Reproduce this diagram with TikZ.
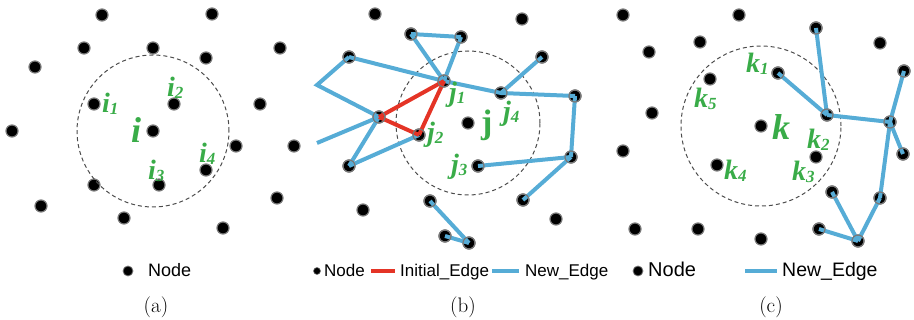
\documentclass[tikz,border=0pt]{standalone}
\usepackage{fontspec}
\newfontfamily\labfont{Liberation Serif}
\newfontfamily\legfont{Liberation Sans}
\definecolor{labgreen}{RGB}{57,172,72}
\definecolor{edgeblue}{RGB}{86,172,214}
\definecolor{edgered}{RGB}{228,52,38}
\definecolor{ringgray}{RGB}{120,120,120}
\newcommand\mylab[2]{#1\raisebox{-1.5pt}{\fontsize{17}{17}\selectfont #2}}
\tikzset{
  dot/.style={circle, fill=black, draw=ringgray, line width=1.2pt, minimum size=12pt, inner sep=0pt},
  ring/.style={draw=ringgray, line width=1.2pt},
  bedge/.style={draw=edgeblue, line width=4pt},
  redge/.style={draw=edgered, line width=4pt},
  dcirc/.style={draw=black!70, line width=1pt, dash pattern=on 4pt off 3pt},
  lab/.style={text=labgreen, inner sep=0pt, anchor=base west, font=\labfont\bfseries\itshape\fontsize{28}{30}\selectfont},
  biglab/.style={lab, font=\labfont\bfseries\itshape\fontsize{36}{38}\selectfont},
  legtxt/.style={inner sep=0pt, anchor=base west},
  captxt/.style={inner sep=0pt, anchor=base, font=\fontsize{21}{24}\selectfont},
}
\begin{document}
\begin{tikzpicture}[x=1pt,y=-1pt]
\useasboundingbox (0,0) rectangle (914,320);
% ---------- panel (a)
\foreach \n/\x/\y in {a1/102/15,a2/212/14,a3/84/48,a4/153/48,a5/206/58,a6/280/48,a7/35/67,
  a8/94/104,a9/174/104,a10/260/104,a11/12/131,a12/153/131,a13/236/146,a14/294/146,
  a15/206/170,a16/94/185,a17/159/185,a18/41/206,a19/277/198,a20/124/218,a21/223/228}
  \node[dot] (\n) at (\x,\y) {};
\draw[dcirc] (a12) circle (76pt);
\node[lab] (li1) at (102,113) {\mylab{i}{1}};
\node[lab] (li2) at (167,97) {\mylab{i}{2}};
\node[biglab] (li) at (131,143) {i};
\node[lab] (li3) at (148,180) {\mylab{i}{3}};
\node[lab] (li4) at (199,163) {\mylab{i}{4}};
% ---------- panel (b)
\foreach \n/\x/\y in {b1/375/14,b2/522/19,b3/411/34,b4/461/37,b5/349/57,b6/542/57,b7/444/81,
  b8/501/93,b9/575/96,b10/379/117,b11/468/123,b12/419/135,b13/349/166,b14/478/166,
  b15/571/157,b16/523/200,b17/363/210,b18/430/201,b19/556/219,b20/445/236,b21/469/243}
  \node[dot] (\n) at (\x,\y) {};
\coordinate (bf1) at (317,85);
\coordinate (bf2) at (317,143);
\draw[dcirc] (b11) circle (72pt);
\draw[bedge] (b5.center) -- (bf1) -- (b10.center);
\draw[bedge] (b5.center) -- (b7.center);
\draw[bedge] (b7.center) -- (b8.center) -- (b9.center);
\draw[bedge] (b3.center) -- (b4.center);
\draw[bedge] (b3.center) -- (b7.center);
\draw[bedge] (b4.center) -- (b7.center);
\draw[bedge] (b8.center) -- (b6.center);
\draw[bedge] (b10.center) -- (bf2);
\draw[bedge] (b10.center) -- (b13.center);
\draw[bedge] (b13.center) -- (b12.center);
\draw[bedge] (b9.center) -- (b15.center);
\draw[bedge] (b14.center) -- (b15.center);
\draw[bedge] (b15.center) -- (b16.center);
\draw[bedge] (b18.center) -- (b21.center);
\draw[bedge] (b20.center) -- (b21.center);
\draw[redge] (b10.center) -- (b7.center);
\draw[redge] (b7.center) -- (b12.center);
\draw[redge] (b10.center) -- (b12.center);
\foreach \n in {b3,b4,b5,b6,b7,b8,b9,b10,b12,b13,b14,b15,b16,b18,b20,b21}
  \draw[ring] (\n) circle (6pt);
\node[lab] (lj1) at (449,102) {\mylab{j}{1}};
\node[lab] (lj2) at (427,142) {\mylab{j}{2}};
\node[biglab, font=\labfont\bfseries\upshape\fontsize{34}{36}\selectfont] (lj) at (481,134) {j};
\node[lab] (lj4) at (503,121) {\mylab{j}{4}};
\node[lab] (lj3) at (451,174) {\mylab{j}{3}};
% ---------- panel (c)
\foreach \n/\x/\y in {c1/623/15,c2/739/15,c3/816/28,c4/700/42,c5/880/43,c6/649/52,c7/778/73,
  c8/904/71,c9/710/79,c10/652/113,c11/827/115,c12/890/122,c13/761/126,c14/623/151,
  c15/816/157,c16/903/154,c17/717/165,c18/832/192,c19/880/198,c20/635/229,c21/698/229,
  c22/761/239,c23/819/229,c24/858/241}
  \node[dot] (\n) at (\x,\y) {};
\draw[dcirc] (c13) circle (80pt);
\draw[bedge] (c7.center) -- (c11.center);
\draw[bedge] (c3.center) -- (c11.center);
\draw[bedge] (c11.center) -- (c12.center);
\draw[bedge] (c12.center) -- (c8.center);
\draw[bedge] (c12.center) -- (c16.center);
\draw[bedge] (c12.center) -- (c19.center);
\draw[bedge] (c19.center) -- (c24.center);
\draw[bedge] (c18.center) -- (c24.center);
\draw[bedge] (c23.center) -- (c24.center);
\foreach \n in {c3,c7,c8,c11,c12,c16,c18,c19,c23,c24}
  \draw[ring] (\n) circle (6pt);
\node[lab] (lk1) at (746,73) {\mylab{k}{1}};
\node[lab] (lk5) at (694,108) {\mylab{k}{5}};
\node[biglab] (lk) at (772,140) {k};
\node[lab] (lk2) at (807,149) {\mylab{k}{2}};
\node[lab] (lk3) at (792,181) {\mylab{k}{3}};
\node[lab] (lk4) at (724,180) {\mylab{k}{4}};
% ---------- legends
\node[dot, minimum size=10pt, line width=0.8pt] (ga) at (128,271) {};
\node[legtxt, font=\legfont\fontsize{18}{20}\selectfont] (gta) at (148,277) {Node};
\node[dot, minimum size=7pt, line width=0.6pt] (gb) at (317,271) {};
\node[legtxt, font=\legfont\fontsize{17}{19}\selectfont] (gtb) at (324,277) {Node};
\coordinate (rl1) at (371,271); \coordinate (rl2) at (395,271);
\draw[redge] (rl1) -- (rl2);
\node[legtxt, font=\legfont\fontsize{17}{19}\selectfont] (gtb2) at (400,277) {Initial\_Edge};
\coordinate (bl1) at (492,271); \coordinate (bl2) at (519,271);
\draw[bedge] (bl1) -- (bl2);
\node[legtxt, font=\legfont\fontsize{17}{19}\selectfont] (gtb3) at (525,277) {New\_Edge};
\node[dot, minimum size=10pt, line width=0.8pt] (gc) at (638,271) {};
\node[legtxt, font=\legfont\fontsize{20}{22}\selectfont] (gtc) at (648,277) {Node};
\coordinate (cl1) at (745,271); \coordinate (cl2) at (777,271);
\draw[bedge] (cl1) -- (cl2);
\node[legtxt, font=\legfont\fontsize{19.5}{22}\selectfont] (gtc2) at (782,277) {New\_Edge};
% ---------- captions
\node[captxt] (capa) at (156,313) {(a)};
\node[captxt] (capb) at (463,313) {(b)};
\node[captxt] (capc) at (771,313) {(c)};
\end{tikzpicture}
\end{document}
